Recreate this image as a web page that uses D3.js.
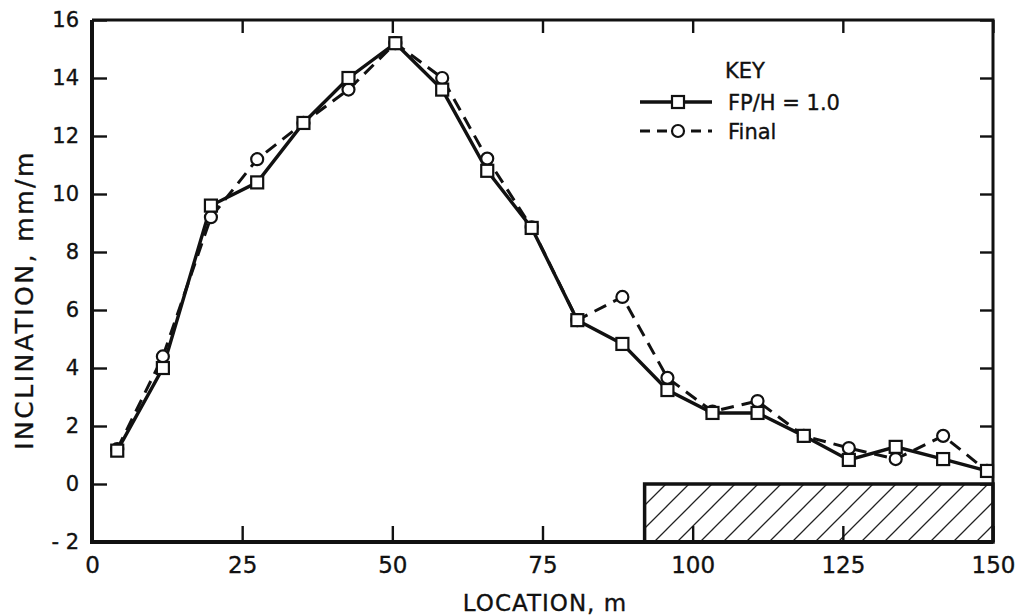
<!DOCTYPE html>
<html>
<head>
<meta charset="utf-8">
<script src="https://cdn.jsdelivr.net/npm/d3@7"></script>
<style>
  body { margin: 0; background: #fff; }
  svg text { font-family: "DejaVu Sans", "Liberation Sans", sans-serif; fill: #111; stroke: #111; stroke-width: 0.35px; }
</style>
</head>
<body>
<svg id="chart" width="1021" height="615"></svg>
<script>
// Location (m) of each inclinometer reading
const locations = [4.2, 11.8, 19.8, 27.5, 35.2, 42.7, 50.5, 58.3, 65.8, 73.2,
                   80.8, 88.3, 95.8, 103.3, 110.8, 118.5, 126, 133.8, 141.7, 149];
// FP/H = 1.0 series (squares, solid)
const fpValues = [1.15, 4.0, 9.6, 10.4, 12.45, 14.0, 15.2, 13.6, 10.8, 8.83,
                  5.65, 4.83, 3.24, 2.45, 2.45, 1.66, 0.83, 1.28, 0.86, 0.45];
// Final series (circles, dashed)
const finalValues = [1.2, 4.4, 9.2, 11.2, 12.45, 13.6, 15.2, 14.0, 11.22, 8.85,
                     5.65, 6.45, 3.66, 2.5, 2.86, 1.66, 1.24, 0.86, 1.66, 0.45];
const xTicks = [0, 25, 50, 75, 100, 125, 150];
const yTicks = [-2, 0, 2, 4, 6, 8, 10, 12, 14, 16];
// hatched zone along the bottom right
const zoneStart = 92, zoneEnd = 150, zoneTop = 0, zoneBottom = -2;

const svg = d3.select("#chart");
const plotLeft = 92, plotRight = 993, plotTop = 20, plotBottom = 542;

const x = d3.scaleLinear().domain([0, 150]).range([plotLeft, plotRight]);
const y = d3.scaleLinear().domain([-2, 16]).range([plotBottom, plotTop]);

// hatch pattern
const defs = svg.append("defs");
const pat = defs.append("pattern")
    .attr("id", "hatch")
    .attr("patternUnits", "userSpaceOnUse")
    .attr("width", 23)
    .attr("height", 23);
pat.append("path")
    .attr("d", "M0,23 L23,0 M-6,6 L6,-6 M17,29 L29,17")
    .attr("stroke", "#222")
    .attr("stroke-width", 1.3);

svg.append("rect")
    .attr("x", x(zoneStart))
    .attr("y", y(zoneTop))
    .attr("width", x(zoneEnd) - x(zoneStart))
    .attr("height", y(zoneBottom) - y(zoneTop))
    .attr("fill", "url(#hatch)")
    .attr("stroke", "#111")
    .attr("stroke-width", 3.5);

// axes, ticks pointing inwards
const xAxis = svg.append("g")
    .attr("transform", `translate(0,${plotBottom})`)
    .call(d3.axisBottom(x).tickValues(xTicks).tickSize(-16).tickPadding(15).tickFormat(d3.format("d")));

svg.append("g")
    .attr("transform", `translate(0,${plotTop})`)
    .call(d3.axisTop(x).tickValues(xTicks).tickSize(-13).tickFormat(""));

svg.append("g")
    .attr("transform", `translate(${plotLeft},0)`)
    .call(d3.axisLeft(y).tickValues(yTicks).tickSize(-15).tickPadding(13)
        .tickFormat(d => d < 0 ? "- " + Math.abs(d) : d));

svg.append("g")
    .attr("transform", `translate(${plotRight},0)`)
    .call(d3.axisRight(y).tickValues(yTicks).tickSize(-13).tickFormat(""));

svg.selectAll(".domain").remove();
svg.selectAll(".tick line").attr("stroke", "#111").attr("stroke-width", 2.4);
svg.selectAll(".tick text").style("font-size", "21px").attr("fill", "#111");
xAxis.selectAll(".tick text").style("font-size", "23px");

// frame
svg.append("path")
    .attr("d", `M${plotLeft},${plotTop} H${plotRight} V${plotBottom}`)
    .attr("fill", "none").attr("stroke", "#111").attr("stroke-width", 3);
svg.append("path")
    .attr("d", `M${plotLeft},${plotTop} V${plotBottom} H${plotRight}`)
    .attr("fill", "none").attr("stroke", "#111").attr("stroke-width", 4);

// axis titles
svg.append("text")
    .attr("x", 545)
    .attr("y", 611)
    .attr("text-anchor", "middle")
    .style("font-size", "23px")
    .style("letter-spacing", "1px")
    .text("LOCATION, m");

svg.append("text")
    .attr("transform", "translate(33,300) rotate(-90)")
    .attr("text-anchor", "middle")
    .style("font-size", "25px")
    .style("letter-spacing", "2.5px")
    .text("INCLINATION, mm/m");

// series
const fpData = locations.map((d, i) => ({ loc: d, val: fpValues[i] }));
const finalData = locations.map((d, i) => ({ loc: d, val: finalValues[i] }));

const line = d3.line().x(d => x(d.loc)).y(d => y(d.val));

svg.append("path")
    .datum(finalData)
    .attr("d", line)
    .attr("fill", "none")
    .attr("stroke", "#111")
    .attr("stroke-width", 3)
    .attr("stroke-dasharray", "13,8");

svg.append("path")
    .datum(fpData)
    .attr("d", line)
    .attr("fill", "none")
    .attr("stroke", "#111")
    .attr("stroke-width", 3.4);

svg.selectAll("circle.final")
    .data(finalData)
    .enter()
    .append("circle")
    .attr("class", "final")
    .attr("cx", d => x(d.loc))
    .attr("cy", d => y(d.val))
    .attr("r", 6)
    .attr("fill", "#fff")
    .attr("stroke", "#111")
    .attr("stroke-width", 2.2);

svg.selectAll("rect.fp")
    .data(fpData)
    .enter()
    .append("rect")
    .attr("class", "fp")
    .attr("x", d => x(d.loc) - 6)
    .attr("y", d => y(d.val) - 6)
    .attr("width", 12)
    .attr("height", 12)
    .attr("fill", "#fff")
    .attr("stroke", "#111")
    .attr("stroke-width", 2.2);

// legend
const key = svg.append("g").attr("transform", "translate(640,0)");
key.append("text").attr("x", 85).attr("y", 78).style("font-size", "21px").text("KEY");

key.append("line").attr("x1", 0).attr("x2", 72).attr("y1", 102).attr("y2", 102)
    .attr("stroke", "#111").attr("stroke-width", 3.4);
key.append("rect").attr("x", 32).attr("y", 96).attr("width", 12).attr("height", 12)
    .attr("fill", "#fff").attr("stroke", "#111").attr("stroke-width", 2.2);
key.append("text").attr("x", 88).attr("y", 110).style("font-size", "21px").text("FP/H = 1.0");

key.append("line").attr("x1", 0).attr("x2", 72).attr("y1", 131).attr("y2", 131)
    .attr("stroke", "#111").attr("stroke-width", 3).attr("stroke-dasharray", "10,7");
key.append("circle").attr("cx", 38).attr("cy", 131).attr("r", 6)
    .attr("fill", "#fff").attr("stroke", "#111").attr("stroke-width", 2.2);
key.append("text").attr("x", 88).attr("y", 139).style("font-size", "21px").text("Final");
</script>
</body>
</html>
